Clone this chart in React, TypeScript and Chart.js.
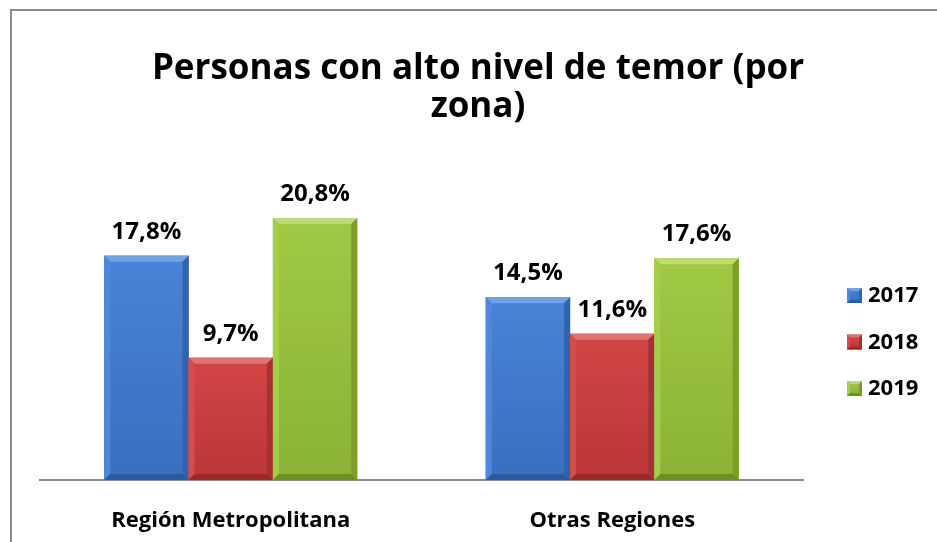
import React, { useEffect, useRef } from "react";
import { Chart, registerables } from "chart.js";
Chart.register(...registerables);

const categories = ["Región Metropolitana", "Otras Regiones"];
const seriesNames = ["2017", "2018", "2019"];
const values2017 = [17.8, 14.5];
const values2018 = [9.7, 11.6];
const values2019 = [20.8, 17.6];
const titleLines = ["Personas con alto nivel de temor (por", "zona)"];
const yMax = 25;

type Pal = { base: string; top: string; bottom: string; light: string; lightSide: string; dark: string; darkBottom: string };
const palettes: Pal[] = [
  { base: "#437ed2", top: "#4884d8", bottom: "#3a6fbe", light: "#72a2e6", lightSide: "#4f88da", dark: "#3264ad", darkBottom: "#2c5a9e" },
  { base: "#cf4040", top: "#d24545", bottom: "#bb3737", light: "#e07272", lightSide: "#d44c4c", dark: "#a83030", darkBottom: "#9a2a2a" },
  { base: "#9cc43e", top: "#a0c943", bottom: "#8bb234", light: "#bcdb70", lightSide: "#a6cc4c", dark: "#7c9f2a", darkBottom: "#6f8f24" },
];

const FONT = "'Open Sans', Lato, sans-serif";

function drawBevelRect(ctx: CanvasRenderingContext2D, l: number, t: number, r: number, b: number, p: Pal, bev: number) {
  const g = ctx.createLinearGradient(0, t, 0, b);
  g.addColorStop(0, p.top);
  g.addColorStop(1, p.bottom);
  ctx.fillStyle = g;
  ctx.fillRect(l, t, r - l, b - t);
  const poly = (pts: number[][], c: string) => {
    ctx.beginPath();
    ctx.moveTo(pts[0][0], pts[0][1]);
    for (let i = 1; i < pts.length; i++) ctx.lineTo(pts[i][0], pts[i][1]);
    ctx.closePath();
    ctx.fillStyle = c;
    ctx.fill();
  };
  const bb = Math.min(bev, (b - t) / 2, (r - l) / 2);
  poly([[l, t], [r, t], [r - bb, t + bb], [l + bb, t + bb]], p.light);
  poly([[l, t], [l + bb, t + bb], [l + bb, b - bb], [l, b]], p.lightSide);
  poly([[r, t], [r, b], [r - bb, b - bb], [r - bb, t + bb]], p.dark);
  poly([[l, b], [l + bb, b - bb], [r - bb, b - bb], [r, b]], p.darkBottom);
}

const fmt = (v: number) => v.toFixed(1).replace(".", ",") + "%";

export default function App() {
  const ref = useRef<HTMLCanvasElement>(null);
  useEffect(() => {
    const canvas = ref.current!;
    const decor = {
      id: "decor",
      afterDatasetsDraw(chart: any) {
        const ctx: CanvasRenderingContext2D = chart.ctx;
        ctx.save();
        chart.getSortedVisibleDatasetMetas().forEach((meta: any) => {
          const p = palettes[meta.index];
          const ds = chart.data.datasets[meta.index];
          meta.data.forEach((el: any, i: number) => {
            const { x, y, base, width } = el.getProps(["x", "y", "base", "width"], true);
            drawBevelRect(ctx, x - width / 2, y, x + width / 2, base, p, 6);
            ctx.fillStyle = "#000";
            ctx.font = `bold 24px ${FONT}`;
            ctx.textAlign = "center";
            ctx.textBaseline = "middle";
            ctx.fillText(fmt(ds.data[i] as number), x, y - 24);
          });
        });
        ctx.restore();
      },
      afterDraw(chart: any) {
        const ctx: CanvasRenderingContext2D = chart.ctx;
        ctx.save();
        ctx.fillStyle = "#000";
        ctx.font = `bold 35px ${FONT}`;
        ctx.textAlign = "center";
        ctx.textBaseline = "middle";
        ctx.fillText(titleLines[0], 478, 69);
        ctx.fillText(titleLines[1], 478, 107);
        ctx.font = `bold 22px ${FONT}`;
        ctx.textAlign = "left";
        seriesNames.forEach((n, i) => {
          const cy = 295 + i * 46.5;
          drawBevelRect(ctx, 847, cy - 7, 862, cy + 8, palettes[i], 3);
          ctx.fillStyle = "#000";
          ctx.fillText(n, 868, cy + 1);
        });
        ctx.restore();
      },
    };
    const chart = new Chart(canvas, {
      type: "bar",
      data: {
        labels: categories,
        datasets: [
          { label: seriesNames[0], data: values2017, backgroundColor: palettes[0].base },
          { label: seriesNames[1], data: values2018, backgroundColor: palettes[1].base },
          { label: seriesNames[2], data: values2019, backgroundColor: palettes[2].base },
        ],
      },
      options: {
        responsive: false,
        animation: false,
        devicePixelRatio: 1,
        layout: { padding: { left: 40, right: 134, top: 165, bottom: 0 } },
        datasets: { bar: { categoryPercentage: 0.663, barPercentage: 1 } },
        plugins: { legend: { display: false }, title: { display: false }, tooltip: { enabled: false } },
        scales: {
          y: { display: false, min: 0, max: yMax, beginAtZero: true },
          x: {
            grid: { display: false, drawTicks: false },
            border: { display: true, color: "#8c8c8c", width: 2 },
            ticks: { color: "#000", padding: 28, font: { family: FONT, size: 22, weight: "bold" } },
            afterFit: (scale: any) => { scale.height = 62; },
          },
        },
      },
      plugins: [decor],
    });
    return () => chart.destroy();
  }, []);
  return (
    <div style={{ position: "fixed", left: 0, top: 0, width: 937, height: 542, overflow: "hidden", background: "#fff" }}>
      <div style={{ position: "absolute", left: 10, top: 9, width: 980, height: 600, border: "2px solid #8c8c8c", boxSizing: "border-box" }} />
      <canvas ref={ref} width={937} height={542} style={{ position: "absolute", left: 0, top: 0, width: 937, height: 542 }} />
    </div>
  );
}
